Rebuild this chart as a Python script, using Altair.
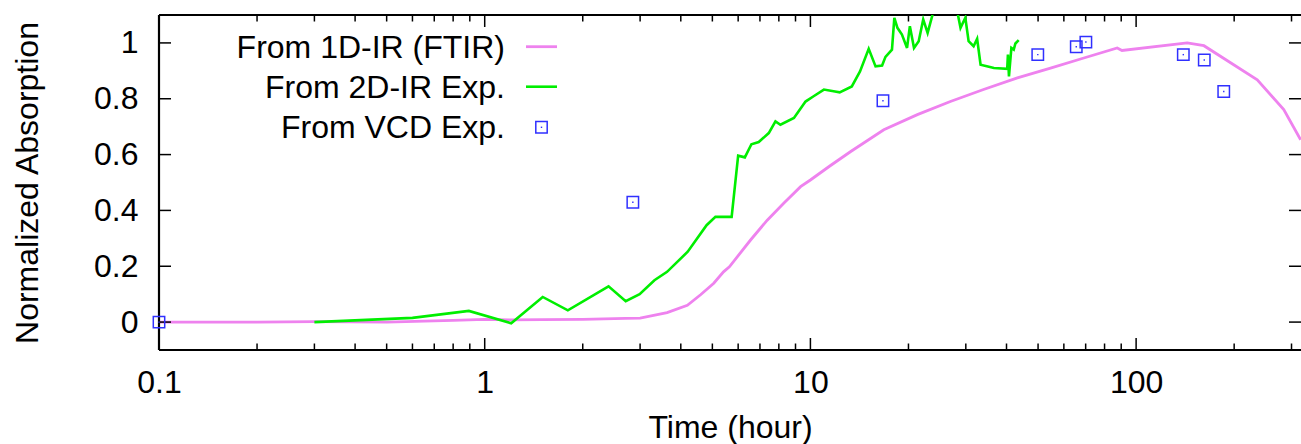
import altair as alt
import pandas as pd

# ---- data ----
t_ftir = [0.1, 0.2, 0.3, 0.5, 0.8, 1.0, 1.2, 1.5, 2.0, 2.7, 3.0, 3.3, 3.63, 4.19, 4.6,
          5.05, 5.41, 5.64, 6.55, 7.37, 8.28, 9.33, 10.0, 11.5, 13.3, 16.8, 21.3,
          26.9, 34.0, 43.2, 54.6, 69.1, 87.5, 90.5, 143.5, 161.5, 235.5, 284.0, 320.0]
a_ftir = [0.0, 0.0, 0.002, 0.0, 0.006, 0.01, 0.008, 0.009, 0.01, 0.013, 0.014, 0.024, 0.034,
          0.06, 0.098, 0.139, 0.18, 0.198, 0.294, 0.365, 0.426, 0.485, 0.509, 0.56,
          0.611, 0.689, 0.743, 0.79, 0.833, 0.875, 0.91, 0.946, 0.982, 0.973, 1.0,
          0.99, 0.868, 0.761, 0.653]

t_2dir = [0.3, 0.6, 0.894, 1.206, 1.507, 1.80, 2.40, 2.71, 2.99, 3.32, 3.63, 4.20, 4.80,
          5.11, 5.73, 6.0, 6.29, 6.59, 6.94, 7.45, 7.81, 8.09, 8.9, 9.66, 10.2, 11.0,
          11.9, 12.3, 13.4, 14.2, 15.1, 15.85, 16.6, 17.0, 17.8, 18.1, 18.5, 19.1,
          19.8, 20.2, 20.8, 21.5, 22.2, 22.9, 23.7, 24.5, 26.0, 27.5, 28.9, 29.9,
          30.6, 31.7, 32.5, 33.3, 36.6, 40.2, 40.4, 40.7, 41.4, 42.1, 42.6, 43.6]
a_2dir = [0.0, 0.015, 0.04, -0.004, 0.09, 0.042, 0.128, 0.075, 0.1, 0.15, 0.18, 0.252,
          0.347, 0.377, 0.377, 0.596, 0.59, 0.637, 0.645, 0.677, 0.719, 0.707, 0.731,
          0.79, 0.808, 0.833, 0.826, 0.823, 0.844, 0.898, 0.979, 0.916, 0.919, 0.95,
          0.976, 1.09, 1.054, 1.03, 0.982, 1.06, 0.982, 1.006, 1.084, 1.036, 1.1,
          1.2, 1.25, 1.18, 1.054, 1.09, 1.006, 0.988, 1.015, 0.922, 0.91, 0.907,
          0.958, 0.88, 0.982, 0.976, 0.998, 1.01]

t_vcd = [0.1, 2.85, 16.7, 49.9, 65.5, 70.1, 139.6, 161.9, 185.8]
a_vcd = [0.0, 0.429, 0.793, 0.958, 0.986, 1.003, 0.958, 0.939, 0.826]

x_major = [0.1, 1, 10, 100]
x_minor = [0.2, 0.3, 0.4, 0.5, 0.6, 0.7, 0.8, 0.9, 2, 3, 4, 5, 6, 7, 8, 9,
           20, 30, 40, 50, 60, 70, 80, 90, 200, 300]
y_ticks = [0, 0.2, 0.4, 0.6, 0.8, 1.0]

legend_labels = ["From 1D-IR (FTIR)", "From 2D-IR Exp.", "From VCD Exp."]

# ---- styling ----
FONT = "Liberation Sans"
FS = 32
W, H = 1142, 335
PINK = "#ee82ee"
GREEN = "#00ee00"
BLUE = "#3030ff"

xs = alt.Scale(type="log", domain=[0.1, 320.8], nice=False)
ys = alt.Scale(domain=[-0.1, 1.1], nice=False, zero=False)

ftir = pd.DataFrame({"t": t_ftir, "a": a_ftir})
ir2d = pd.DataFrame({"t": t_2dir, "a": a_2dir})
vcd = pd.DataFrame({"t": t_vcd, "a": a_vcd})
one = pd.DataFrame({"k": [0]})

x_axis = alt.Axis(values=x_major, format="~g", ticks=False, tickSize=0, domain=False,
                  grid=False, labelPadding=17.5, labelFontSize=FS, labelFont=FONT,
                  labelColor="black", labelFlush=False, labelOverlap=False,
                  title="Time (hour)", titleFont=FONT, titleFontSize=FS,
                  titleFontWeight="normal", titleColor="black", titleY=87,
                  titleBaseline="alphabetic")
y_axis = alt.Axis(values=y_ticks, format="~g", ticks=False, tickSize=0, domain=False,
                  grid=False, labelPadding=21, labelFontSize=FS, labelFont=FONT,
                  labelColor="black", labelFlush=False, labelOverlap=False,
                  title="Normalized Absorption", titleFont=FONT, titleFontSize=FS,
                  titleFontWeight="normal", titleColor="black", titleX=-122,
                  titleY=H / 2, titleAngle=270, titleBaseline="alphabetic",
                  titleAlign="center")

XE = lambda f: alt.X(f, scale=xs, axis=x_axis)
YE = lambda f: alt.Y(f, scale=ys, axis=y_axis)

# frame (left, top, bottom)
frame_l = alt.Chart(one).mark_rule(color="black", strokeWidth=2.2).encode(
    x=alt.value(0), y=alt.value(0), y2=alt.value(H))
frame_t = alt.Chart(one).mark_rule(color="black", strokeWidth=2.2).encode(
    x=alt.value(0), x2=alt.value(W), y=alt.value(0))
frame_b = alt.Chart(one).mark_rule(color="black", strokeWidth=2.2).encode(
    x=alt.value(0), x2=alt.value(W), y=alt.value(H))

dmaj = pd.DataFrame({"t": x_major})
dmin = pd.DataFrame({"t": x_minor})
dy = pd.DataFrame({"a": y_ticks})

def xtick(df, y0, y1):
    return alt.Chart(df).mark_rule(color="black", strokeWidth=1.5).encode(
        x=XE("t:Q"), y=alt.value(y0), y2=alt.value(y1))

def ytick(x0, x1):
    return alt.Chart(dy).mark_rule(color="black", strokeWidth=1.5).encode(
        y=YE("a:Q"), x=alt.value(x0), x2=alt.value(x1))

ticks = [xtick(dmaj, H, H - 12), xtick(dmaj, 0, 12),
         xtick(dmin, H, H - 6.5), xtick(dmin, 0, 6.5),
         ytick(0, 12), ytick(W - 12, W)]

pink = alt.Chart(ftir).mark_line(color=PINK, strokeWidth=2.8, clip=True).encode(
    x=XE("t:Q"), y=YE("a:Q"))
green = alt.Chart(ir2d).mark_line(color=GREEN, strokeWidth=2.6, clip=True).encode(
    x=XE("t:Q"), y=YE("a:Q"))
sq = alt.Chart(vcd).mark_point(shape="square", size=130, filled=False, color=BLUE,
                               strokeWidth=1.5, opacity=1).encode(
    x=XE("t:Q"), y=YE("a:Q"))
dot = alt.Chart(vcd).mark_point(shape="square", size=2, filled=True, color=BLUE,
                                opacity=1).encode(
    x=XE("t:Q"), y=YE("a:Q"))

# legend (text left, sample right, as in the original)
leg = []
for i, lbl in enumerate(legend_labels):
    leg.append(alt.Chart(pd.DataFrame({"label": [lbl]})).mark_text(
        align="right", baseline="alphabetic", font=FONT, fontSize=FS, color="black").encode(
        x=alt.value(346), y=alt.value(43.3 + 40 * i), text="label:N"))
leg.append(alt.Chart(one).mark_rule(color=PINK, strokeWidth=2.8).encode(
    x=alt.value(367), x2=alt.value(398), y=alt.value(31.7)))
leg.append(alt.Chart(one).mark_rule(color=GREEN, strokeWidth=2.6).encode(
    x=alt.value(367), x2=alt.value(398), y=alt.value(71.7)))
leg.append(alt.Chart(one).mark_point(shape="square", size=130, filled=False, color=BLUE,
                                     strokeWidth=1.5, opacity=1).encode(
    x=alt.value(382.5), y=alt.value(112.3)))
leg.append(alt.Chart(one).mark_point(shape="square", size=2, filled=True, color=BLUE,
                                     opacity=1).encode(
    x=alt.value(382.5), y=alt.value(112.3)))

chart = alt.layer(pink, frame_l, frame_t, frame_b, *ticks, green, sq, dot, *leg).properties(
    width=W, height=H,
    padding={"left": 159, "top": 15, "right": 0, "bottom": 94},
    autosize=alt.AutoSizeParams(type="none"),
    background="white",
).configure_view(stroke=None)

chart.save("out.html", embed_options={"renderer": "svg", "actions": False})
